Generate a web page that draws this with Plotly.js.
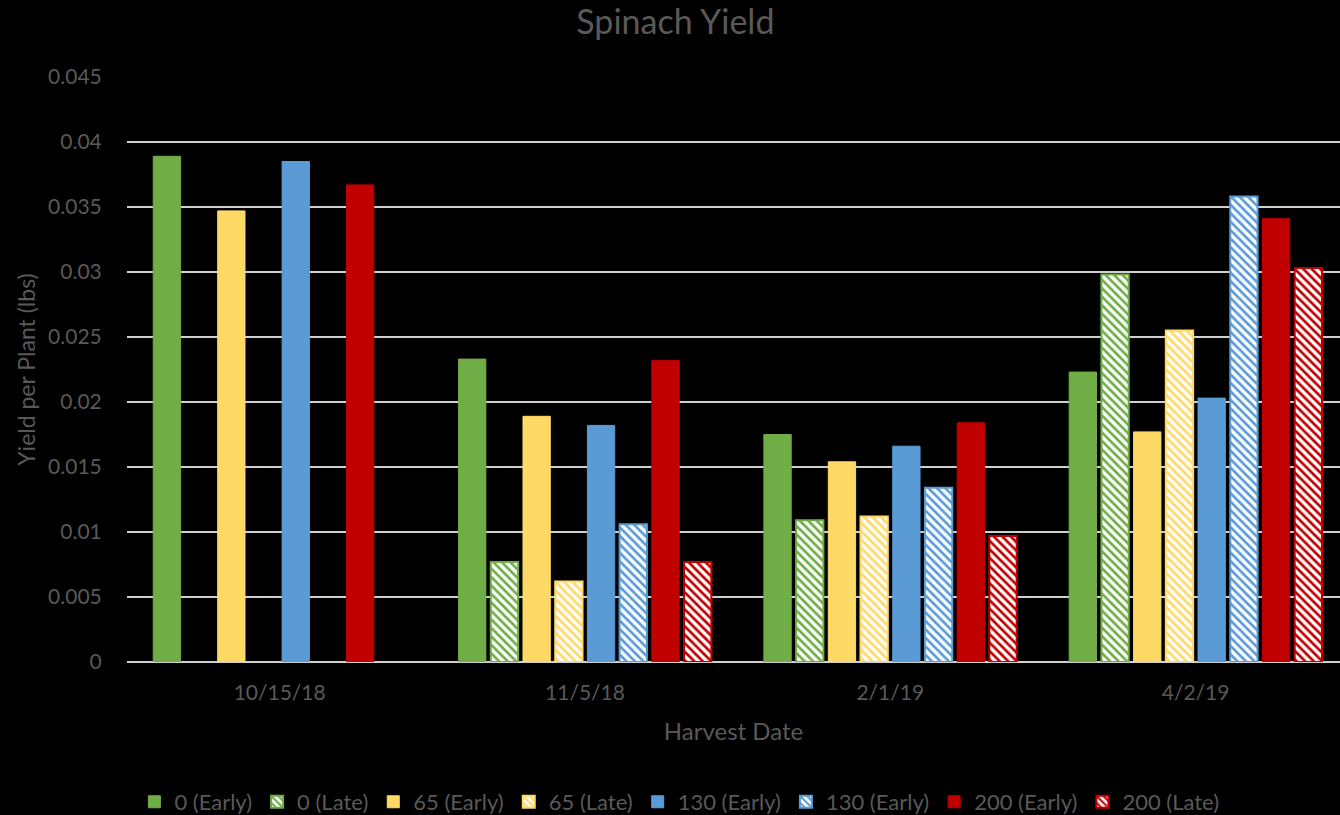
<!DOCTYPE html>
<html>
<head>
<meta charset="utf-8">
<script src="https://cdn.plot.ly/plotly-3.0.1.min.js"></script>
<style>
  html, body { margin: 0; padding: 0; background: #000; }
  #chart { width: 1340px; height: 815px; }
</style>
</head>
<body>
<div id="chart"></div>
<script>
// ---- Data ----
const dates = ['10/15/18', '11/5/18', '2/1/19', '4/2/19'];
const seriesNames = ['0 (Early)', '0 (Late)', '65 (Early)', '65 (Late)', '130 (Early)', '130 (Early)', '200 (Early)', '200 (Late)'];
const early0   = [0.0389, 0.0233, 0.0175, 0.0223];
const late0    = [null,   0.0077, 0.0109, 0.0298];
const early65  = [0.0347, 0.0189, 0.0154, 0.0177];
const late65   = [null,   0.0062, 0.0112, 0.0255];
const early130 = [0.0385, 0.0182, 0.0166, 0.0203];
const late130  = [null,   0.0106, 0.0134, 0.0358];
const early200 = [0.0367, 0.0232, 0.0184, 0.0341];
const late200  = [null,   0.0077, 0.0097, 0.0303];

const seriesValues = [early0, late0, early65, late65, early130, late130, early200, late200];
const colors = ['#70AD47', '#70AD47', '#FFD966', '#FFD966', '#5B9BD5', '#5B9BD5', '#C00000', '#C00000'];
const hatched = [false, true, false, true, false, true, false, true];

const FONT = 'Lato, "Open Sans", sans-serif';
const TXT = '#595959';

const traces = seriesValues.map((vals, i) => {
  const t = {
    type: 'bar',
    name: seriesNames[i],
    x: dates,
    y: vals,
    marker: {
      color: hatched[i] ? '#FFFFFF' : colors[i],
      line: { color: colors[i], width: hatched[i] ? 2 : 1 }
    },
    hoverinfo: 'x+y+name'
  };
  if (hatched[i]) {
    t.marker.pattern = {
      shape: '\\',
      fgcolor: colors[i],
      bgcolor: '#FFFFFF',
      fillmode: 'replace',
      size: 6,
      solidity: 0.45
    };
  }
  return t;
});

const layout = {
  width: 1340,
  height: 815,
  paper_bgcolor: '#000000',
  plot_bgcolor: '#000000',
  font: { family: FONT, color: TXT, size: 21 },
  margin: { l: 127, r: 0, t: 77, b: 153, pad: 0 },
  barmode: 'group',
  bargap: 0.156,
  bargroupgap: 0.152,
  title: {
    text: 'Spinach Yield',
    font: { family: FONT, size: 34, color: TXT },
    x: 0.504, xref: 'container', xanchor: 'center',
    y: 0.973, yref: 'container', yanchor: 'middle'
  },
  xaxis: {
    type: 'category',
    range: [-0.5, 3.473],
    showgrid: false,
    showline: false,
    zeroline: false,
    ticks: 'outside',
    ticklen: 12,
    tickcolor: 'rgba(0,0,0,0)',
    tickfont: { family: FONT, size: 21, color: TXT },
    title: { text: 'Harvest Date', font: { family: FONT, size: 24, color: TXT }, standoff: 19 },
    automargin: false,
    fixedrange: true
  },
  yaxis: {
    range: [0, 0.045],
    dtick: 0.005,
    tick0: 0,
    showgrid: true,
    gridcolor: '#D0D0D0',
    gridwidth: 2,
    zeroline: true,
    zerolinecolor: '#D0D0D0',
    zerolinewidth: 2,
    showline: false,
    ticks: 'outside',
    ticklen: 20,
    tickcolor: 'rgba(0,0,0,0)',
    tickfont: { family: FONT, size: 21, color: TXT },
    title: { text: 'Yield per Plant (lbs)', font: { family: FONT, size: 23, color: TXT }, standoff: 6 },
    automargin: false,
    fixedrange: true
  },
  showlegend: true,
  legend: {
    orientation: 'h',
    xref: 'container', x: 0.507, xanchor: 'center',
    yref: 'container', y: 0.016, yanchor: 'middle',
    font: { family: FONT, size: 22, color: TXT },
    bgcolor: 'rgba(0,0,0,0)',
    itemwidth: 30,
    traceorder: 'normal'
  }
};

Plotly.newPlot('chart', traces, layout, { displayModeBar: false, staticPlot: true });
</script>
</body>
</html>
